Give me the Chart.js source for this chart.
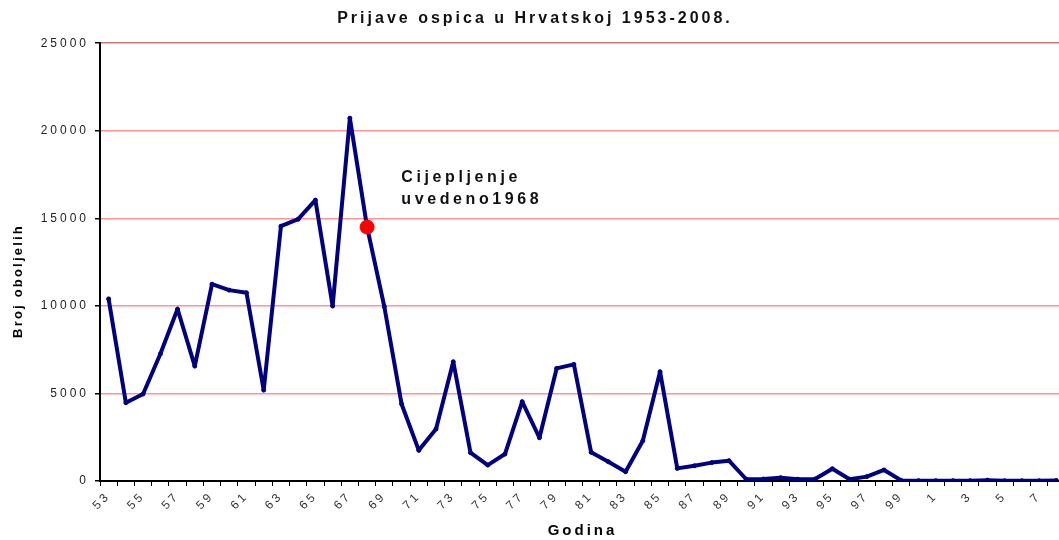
<!DOCTYPE html>
<html>
<head>
<meta charset="utf-8">
<title>Prijave ospica u Hrvatskoj 1953-2008.</title>
<script src="https://cdn.jsdelivr.net/npm/chart.js@4/dist/chart.umd.min.js"></script>
<style>
  html, body { margin: 0; padding: 0; background: #fff; overflow: hidden; }
  /* malo šire od prozora: desni rub grafa je u originalu odrezan */
  #wrap { width: 1070px; height: 540px; }
</style>
</head>
<body>
<div id="wrap"><canvas id="measlesChart"></canvas></div>
<script>
// godine (zadnje dvije znamenke, 2000-te kao 0..8)
const years = ['53','54','55','56','57','58','59','60','61','62','63','64','65','66','67','68','69',
  '70','71','72','73','74','75','76','77','78','79','80','81','82','83','84','85','86','87','88','89',
  '90','91','92','93','94','95','96','97','98','99','0','1','2','3','4','5','6','7','8'];

// broj oboljelih po godini (očitano sa slike)
const cases = [10400, 4470, 4970, 7250, 9820, 6560, 11240, 10900, 10750, 5190,
  14550, 14950, 16040, 9990, 20720, 14500, 9950, 4400, 1750, 2970,
  6810, 1620, 910, 1540, 4530, 2470, 6430, 6660, 1640, 1100,
  530, 2300, 6240, 720, 870, 1050, 1160, 100, 110, 190,
  100, 110, 700, 100, 250, 630, 30, 20, 20, 20,
  20, 50, 15, 15, 15, 30];

const yTicks = [0, 5000, 10000, 15000, 20000, 25000];

// godina uvođenja cijepljenja (crvena točka)
const vaccineYear = '68';
const vaccineIndex = years.indexOf(vaccineYear);
const noteLines = ['Cijepljenje', 'uvedeno1968'];

const navy = '#000080';
const fontFamily = "'Liberation Sans', Arial, sans-serif";

// razmak slova kao na originalu + naslov osi y i bilješka
const textPlugin = {
    id: 'textExtras',
    beforeLayout(chart) { chart.ctx.letterSpacing = '3px'; },
    beforeDraw(chart) { chart.ctx.letterSpacing = '3px'; },
    afterDraw(chart) {
        const ctx = chart.ctx;
        const x = chart.scales.x;
        const y = chart.scales.y;
        ctx.save();
        ctx.letterSpacing = '3.6px';
        ctx.fillStyle = '#111';
        ctx.font = 'bold 16px ' + fontFamily;
        ctx.textAlign = 'left';
        ctx.textBaseline = 'middle';
        const nx = x.getPixelForValue(vaccineIndex + 1) + 17;
        ctx.fillText(noteLines[0], nx, y.getPixelForValue(17300));
        ctx.fillText(noteLines[1], nx, y.getPixelForValue(16050));
        ctx.restore();

        // naslov osi y
        ctx.save();
        ctx.letterSpacing = '2.2px';
        ctx.fillStyle = '#000';
        ctx.font = 'bold 13px ' + fontFamily;
        ctx.textAlign = 'center';
        ctx.textBaseline = 'middle';
        ctx.translate(18, 281);
        ctx.rotate(-Math.PI / 2);
        ctx.fillText('Broj oboljelih', 0, 0);
        ctx.restore();
    }
};

const ctx = document.getElementById('measlesChart').getContext('2d');
new Chart(ctx, {
    type: 'line',
    data: {
        labels: years,
        datasets: [{
            data: cases,
            borderColor: navy,
            borderWidth: 4,
            borderJoinStyle: 'round',
            borderCapStyle: 'round',
            tension: 0,
            pointRadius: c => c.dataIndex === vaccineIndex ? 7 : 2,
            pointBackgroundColor: c => c.dataIndex === vaccineIndex ? '#ff0000' : navy,
            pointBorderColor: c => c.dataIndex === vaccineIndex ? '#ff0000' : navy,
            pointBorderWidth: 1
        }]
    },
    options: {
        responsive: true,
        maintainAspectRatio: false,
        animation: false,
        layout: { padding: 0 },
        plugins: {
            legend: { display: false },
            tooltip: { enabled: false },
            title: {
                display: true,
                text: 'Prijave ospica u Hrvatskoj 1953-2008.',
                color: '#111',
                font: { family: fontFamily, size: 16, weight: 'bold', lineHeight: 1.2 },
                padding: { top: 9, bottom: 15 }
            }
        },
        scales: {
            x: {
                offset: true,
                grid: {
                    display: true,
                    drawOnChartArea: false,
                    drawTicks: true,
                    tickLength: 5,
                    tickColor: '#000',
                    offset: true
                },
                border: { display: true, color: '#000', width: 2 },
                ticks: {
                    autoSkip: false,
                    minRotation: 45,
                    maxRotation: 45,
                    padding: 3,
                    color: '#333',
                    font: { family: fontFamily, size: 12 },
                    callback: (v, i) => i % 2 === 0 ? years[i] : ''
                },
                title: {
                    display: true,
                    text: 'Godina',
                    color: '#000',
                    font: { family: fontFamily, size: 15, weight: 'bold', lineHeight: 1.2 },
                    padding: { top: 0, bottom: 0 }
                },
                afterFit(scale) { scale.height = 59; }
            },
            y: {
                min: 0,
                max: 25000,
                afterBuildTicks(scale) { scale.ticks = yTicks.map(v => ({ value: v })); },
                grid: {
                    color: c => c.tick && c.tick.value === 25000 ? '#c87a7a' : '#ff9494',
                    lineWidth: 1.5,
                    tickLength: 5,
                    tickColor: '#000'
                },
                border: { display: true, color: '#000', width: 2 },
                ticks: {
                    padding: 6,
                    color: '#222',
                    font: { family: fontFamily, size: 12 },
                    callback: v => String(v)
                },
                afterFit(scale) { scale.width = 100; }
            }
        }
    },
    plugins: [textPlugin]
});
</script>
</body>
</html>
